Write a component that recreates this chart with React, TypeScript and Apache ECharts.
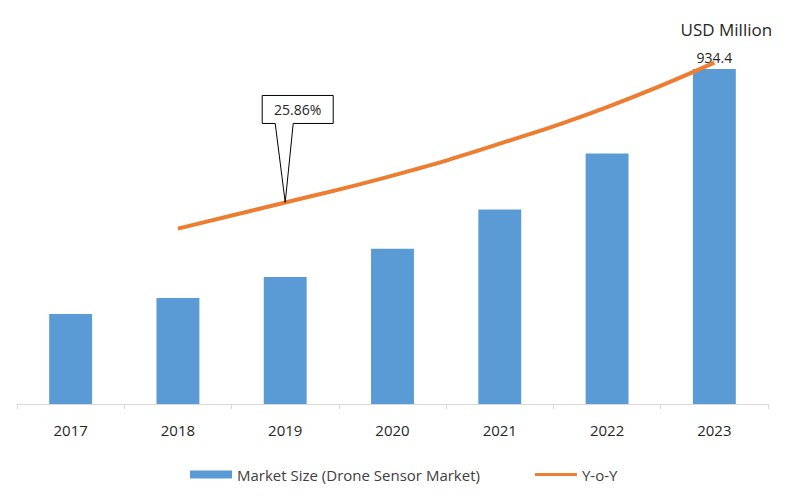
import React, { useEffect, useRef } from "react";
import * as echarts from "echarts";

const years = ["2017", "2018", "2019", "2020", "2021", "2022", "2023"];
const marketSize = [250.8, 295.4, 354.0, 432.8, 542.7, 698.7, 934.4];
const yoy = [null, 22.5, 25.86, 29.3, 33.4, 38.1, 43.8];
const calloutIndex = 2;
const calloutText = "25.86%";
const unitText = "USD Million";

const FONT = "'Open Sans', 'Liberation Sans', sans-serif";

export default function App() {
  const ref = useRef<HTMLDivElement>(null);
  useEffect(() => {
    if (!ref.current) return;
    document.body.style.margin = "0";
    const chart = echarts.init(ref.current, null, { renderer: "svg" });
    chart.setOption({
      animation: false,
      textStyle: { fontFamily: FONT },
      grid: { left: 17, right: 32, top: 45.5, bottom: 100 },
      legend: {
        top: 462,
        left: 185,
        itemGap: 55,
        textStyle: { fontSize: 15, color: "#404040", fontFamily: FONT },
        data: [
          { name: "Market Size (Drone Sensor Market)", icon: "rect" },
          { name: "Y-o-Y", icon: "path://M0,0 L40,0 L40,3 L0,3 Z" },
        ],
        itemWidth: 42,
        itemHeight: 8,
      },
      xAxis: {
        type: "category",
        data: years,
        axisLine: { lineStyle: { color: "#d9d9d9", width: 1 } },
        axisTick: { show: true, length: 5, lineStyle: { color: "#d9d9d9" } },
        axisLabel: { color: "#262626", fontSize: 15, margin: 18, fontFamily: FONT },
      },
      yAxis: [
        { type: "value", min: 0, max: 1000, show: false, splitLine: { show: false } },
        { type: "value", min: 0, max: 46, show: false, splitLine: { show: false } },
      ],
      series: [
        {
          name: "Market Size (Drone Sensor Market)",
          type: "bar",
          data: marketSize,
          barWidth: "40%",
          itemStyle: { color: "#5B9BD5" },
          label: {
            show: true,
            position: "top",
            distance: 5,
            color: "#262626",
            fontSize: 14,
            fontFamily: FONT,
            formatter: (p: any) => (p.dataIndex === marketSize.length - 1 ? String(p.value) : ""),
          },
        },
        {
          name: "Y-o-Y",
          type: "line",
          yAxisIndex: 1,
          data: yoy,
          smooth: true,
          symbol: "none",
          lineStyle: { color: "#ED7D31", width: 4 },
          itemStyle: { color: "#ED7D31" },
        },
      ],
    });

    const pt = chart.convertToPixel({ xAxisIndex: 0, yAxisIndex: 1 }, [calloutIndex, yoy[calloutIndex] as number]) as number[];
    const lastBar = chart.convertToPixel({ xAxisIndex: 0, yAxisIndex: 0 }, [marketSize.length - 1, marketSize[marketSize.length - 1]]) as number[];
    const bw = 71, bh = 28;
    const bx = pt[0] - 23, by = pt[1] - 107;
    chart.setOption({
      graphic: [
        {
          type: "polygon",
          shape: {
            points: [
              [bx, by],
              [bx + bw, by],
              [bx + bw, by + bh],
              [pt[0] + 8, by + bh],
              [pt[0], pt[1]],
              [pt[0] - 10, by + bh],
              [bx, by + bh],
            ],
          },
          style: { fill: "#fff", stroke: "#000", lineWidth: 1 },
          z: 100,
        },
        {
          type: "text",
          x: bx + bw / 2,
          y: by + bh / 2,
          style: { text: calloutText, fill: "#262626", align: "center", verticalAlign: "middle", font: `14px ${FONT}` },
          z: 101,
        },
        {
          type: "text",
          x: lastBar[0] + 12,
          y: lastBar[1] - 40,
          style: { text: unitText, fill: "#262626", align: "center", verticalAlign: "middle", font: `17px ${FONT}` },
          z: 101,
        },
      ],
    });
    return () => chart.dispose();
  }, []);
  return <div ref={ref} style={{ width: 800, height: 504 }} />;
}
